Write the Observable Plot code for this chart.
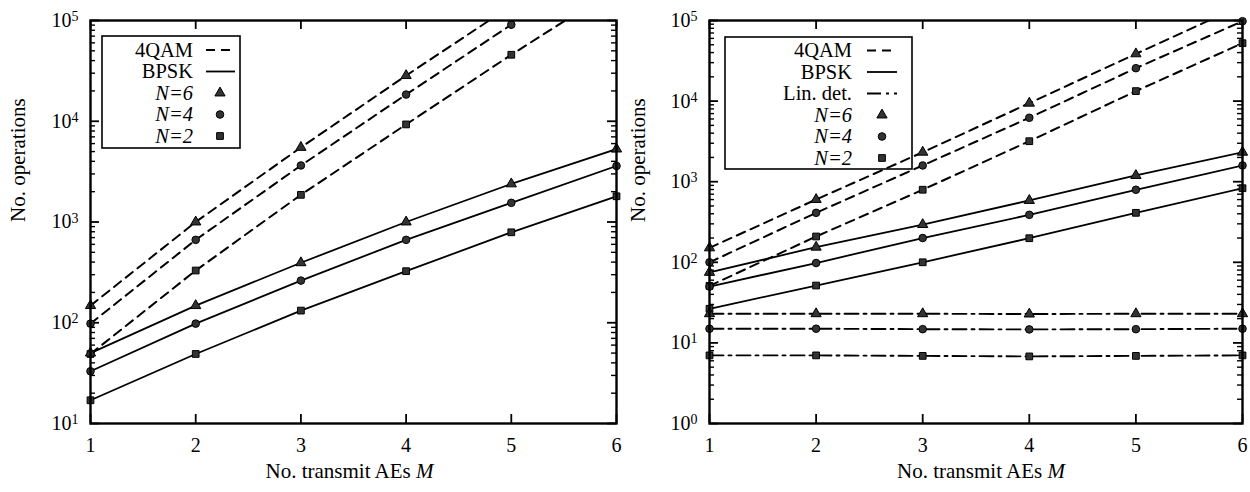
<!DOCTYPE html>
<html>
<head>
<meta charset="utf-8">
<script src="https://cdn.jsdelivr.net/npm/d3@7"></script>
<script src="https://cdn.jsdelivr.net/npm/@observablehq/plot@0.6"></script>
<style>
  html, body { margin: 0; padding: 0; background: #fff; }
  #wrap { display: flex; width: 1250px; height: 492px; }
  svg { display: block; }
  svg text { font-family: 'Liberation Serif', 'DejaVu Serif', serif; font-size: 20px; fill: #000; }
</style>
</head>
<body>
<div id="wrap"></div>
<script>
// ---------------- data ----------------
const M = [1, 2, 3, 4, 5, 6];

// Left panel
const qamN6L  = [148, 1000, 5500, 28400, 140000, 600000];
const qamN4L  = [98, 665, 3640, 18400, 91000, 440000];
const qamN2L  = [49, 330, 1860, 9300, 45700, 210000];
const bpskN6L = [50, 148, 394, 1000, 2390, 5300];
const bpskN4L = [33, 98, 262, 665, 1550, 3600];
const bpskN2L = [17, 49, 132, 325, 790, 1800];

// Right panel
const qamN6R  = [151, 601, 2320, 9420, 38600, 155000];
const qamN4R  = [100, 411, 1590, 6210, 25600, 98000];
const qamN2R  = [51, 209, 795, 3180, 13300, 52300];
const bpskN6R = [75, 154, 294, 585, 1194, 2320];
const bpskN4R = [50, 98, 200, 388, 794, 1590];
const bpskN2R = [26.5, 51.5, 100, 199, 411, 830];
const linN6R  = [23, 23, 23, 22.8, 23, 23];
const linN4R  = [15, 15, 14.8, 14.7, 14.8, 15];
const linN2R  = [7, 7, 6.9, 6.8, 6.9, 7];

const yMajorL = [1e1, 1e2, 1e3, 1e4, 1e5];
const yMajorR = [1e0, 1e1, 1e2, 1e3, 1e4, 1e5];

const labelY = "No. operations";
const labelX = "No. transmit AEs M";

const FONT = "'Liberation Serif', 'DejaVu Serif', serif";
const SYMBOL = {6: "triangle", 4: "circle", 2: "square"};
const DASH = {qam: "9,6", bpsk: null, lin: "14,5,3,5"};
const WIDTH = {qam: 2, bpsk: 1.8, lin: 1.9};
const R = 3.8;

function rowsOf(values, N) { return M.map((m, i) => ({M: m, v: values[i], N})); }

function chart(opts) {
  const {width, mL, mR, mT = 20, mB = 69, height = 492, yMajor, groups, dxY, dxX, legend} = opts;
  const pw = width - mL - mR, ph = height - mT - mB;
  const yMax = yMajor[yMajor.length - 1];
  const minor = yMajor.slice(0, -1).flatMap(d => [2,3,4,5,6,7,8,9].map(k => k * d));
  const marks = [
    Plot.tickY(yMajor, {y: d => d, insetRight: pw - 9, strokeWidth: 1.8}),
    Plot.tickY(yMajor, {y: d => d, insetLeft: pw - 9, strokeWidth: 1.8}),
    Plot.tickY(minor, {y: d => d, insetRight: pw - 5, strokeWidth: 1.4}),
    Plot.tickY(minor, {y: d => d, insetLeft: pw - 5, strokeWidth: 1.4}),
    Plot.tickX(M, {x: d => d, insetTop: ph - 9, strokeWidth: 1.8}),
    Plot.tickX(M, {x: d => d, insetBottom: ph - 9, strokeWidth: 1.8})
  ];
  for (const g of groups) {
    const rows = g.series.flatMap(s => rowsOf(s.values, s.N));
    marks.push(Plot.line(rows, {
      x: "M", y: "v", z: "N", stroke: "#000",
      strokeWidth: WIDTH[g.type],
      strokeDasharray: DASH[g.type], clip: true
    }));
  }
  for (const g of groups) {
    for (const s of g.series) {
      marks.push(Plot.dot(rowsOf(s.values, s.N), {
        x: "M", y: "v", symbol: SYMBOL[s.N], r: R,
        fill: "#333", stroke: "#000", strokeWidth: 1,
        filter: d => d.v <= yMax * 1.02
      }));
    }
  }
  marks.push(Plot.frame({strokeWidth: 2.4, stroke: "#000"}));
  marks.push(Plot.text([labelY], {text: d => d, frameAnchor: "left", dx: dxY, rotate: -90, fontSize: 21}));
  marks.push(Plot.text([labelX], {text: d => d, frameAnchor: "bottom", dy: 54, dx: dxX, fontSize: 21}));

  const svg = Plot.plot({
    width, height,
    marginLeft: mL, marginRight: mR, marginTop: mT, marginBottom: mB,
    style: {fontFamily: FONT, fontSize: "20px", color: "#000", background: "#fff", overflow: "visible"},
    x: {domain: [1, 6], ticks: M, tickSize: 0, tickPadding: 14, tickFormat: d => String(d), label: null},
    y: {type: "log", domain: [yMajor[0], yMax], ticks: yMajor, tickSize: 0, tickPadding: 12,
        tickFormat: d => "10^" + Math.round(Math.log10(d)), label: null},
    marks
  });

  // superscripts, italics, label sizes
  d3.select(svg).selectAll("text").each(function() {
    const el = d3.select(this);
    const t = this.textContent;
    if (/^10\^\d+$/.test(t)) {
      const e = t.split("^")[1];
      el.text("10");
      el.append("tspan").attr("dy", "-0.42em").style("font-size", "14px").text(e);
    } else if (t === labelX) {
      el.style("font-size", "21px").text("No. transmit AEs ");
      el.append("tspan").attr("font-style", "italic").text("M");
    } else if (t === labelY) {
      el.style("font-size", "21px");
    }
  });

  // legend
  const L = legend;
  const sel = d3.select(svg);
  const lg = sel.append("g").attr("font-family", FONT);
  lg.append("rect").attr("x", L.box[0]).attr("y", L.box[1])
    .attr("width", L.box[2] - L.box[0]).attr("height", L.box[3] - L.box[1])
    .attr("fill", "none").attr("stroke", "#000").attr("stroke-width", 1.6);
  L.items.forEach((it, i) => {
    const y = L.rows[i];
    const tx = lg.append("text").attr("x", L.textEnd).attr("y", y).attr("dy", "0.32em")
      .attr("text-anchor", "end").style("font-size", "20.5px");
    if (it.N) {
      tx.attr("font-style", "italic").text(it.label);
      const sym = SYMBOL[it.N] === "triangle" ? d3.symbolTriangle : SYMBOL[it.N] === "circle" ? d3.symbolCircle : d3.symbolSquare;
      lg.append("path")
        .attr("transform", `translate(${L.mark},${y})`)
        .attr("d", d3.symbol(sym, Math.PI * R * R)())
        .attr("fill", "#333").attr("stroke", "#000").attr("stroke-width", 1);
    } else {
      tx.text(it.label);
      lg.append("line").attr("x1", L.line[0]).attr("x2", L.line[1]).attr("y1", y).attr("y2", y)
        .attr("stroke", "#000").attr("stroke-width", WIDTH[it.type])
        .attr("stroke-dasharray", DASH[it.type]);
    }
  });
  return svg;
}

const left = chart({
  width: 625, mL: 90, mR: 9, yMajor: yMajorL, dxY: -72, dxX: -4,
  groups: [
    {type: "qam", series: [{N: 6, values: qamN6L}, {N: 4, values: qamN4L}, {N: 2, values: qamN2L}]},
    {type: "bpsk", series: [{N: 6, values: bpskN6L}, {N: 4, values: bpskN4L}, {N: 2, values: bpskN2L}]}
  ],
  legend: {
    box: [102, 36, 240, 148], textEnd: 193, line: [206, 235], mark: 220,
    rows: [50, 71.5, 93, 114.5, 136],
    items: [{label: "4QAM", type: "qam"}, {label: "BPSK", type: "bpsk"},
            {label: "N=6", N: 6}, {label: "N=4", N: 4}, {label: "N=2", N: 2}]
  }
});

const right = chart({
  width: 625, mL: 84, mR: 8, yMajor: yMajorR, dxY: -71, dxX: 5,
  groups: [
    {type: "qam", series: [{N: 6, values: qamN6R}, {N: 4, values: qamN4R}, {N: 2, values: qamN2R}]},
    {type: "bpsk", series: [{N: 6, values: bpskN6R}, {N: 4, values: bpskN4R}, {N: 2, values: bpskN2R}]},
    {type: "lin", series: [{N: 6, values: linN6R}, {N: 4, values: linN4R}, {N: 2, values: linN2R}]}
  ],
  legend: {
    box: [100, 37, 287, 169], textEnd: 227, line: [242, 272], mark: 257,
    rows: [50.5, 72, 93.5, 115, 136.5, 158],
    items: [{label: "4QAM", type: "qam"}, {label: "BPSK", type: "bpsk"}, {label: "Lin. det.", type: "lin"},
            {label: "N=6", N: 6}, {label: "N=4", N: 4}, {label: "N=2", N: 2}]
  }
});

document.getElementById("wrap").append(left, right);
</script>
</body>
</html>
